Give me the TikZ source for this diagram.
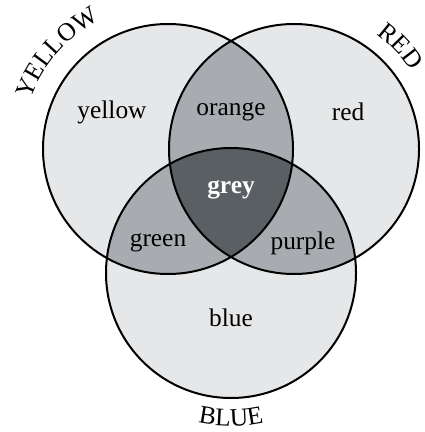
\documentclass[tikz,border=0pt]{standalone}
\usepackage{fontspec}
\setmainfont{Liberation Serif}
\usetikzlibrary{decorations.text}
\definecolor{SetLight}{RGB}{230,231,233}
\definecolor{SetMid}{RGB}{168,172,177}
\definecolor{SetDark}{RGB}{90,95,99}
\newcommand{\SetFont}{\fontsize{12.7}{15}\selectfont}
\newcommand{\SetRadius}{62.5pt}
\newcommand{\ArcLabel}[5]{
\path[decorate, decoration={text along path, text align=center, text={|\SetFont|#5}}]
  ([shift={(#2:#4)}]#1) arc[start angle=#2, end angle=#3, radius=#4]; % label outside the circle
}

\begin{document}
\begin{tikzpicture}[x=0.5pt, y=0.5pt,
setline/.style={line width=1pt, black},
region/.style={font=\SetFont, inner sep=0},
]
\useasboundingbox (0,0) rectangle (424,-432); %%%%%%%%%%%% SIZE OF THE PICTURE

%%%%%%%%%%%%%%%%%%%%%%%% CENTRES %%%%%%%%%%%%%%%%%%%%%%%%%%%
\coordinate (CY) at (168,-149);
\coordinate (CR) at (294,-149);
\coordinate (CB) at (231,-273);

%%%%%%%%%%%%%%%%%%%%%%%% FILLS %%%%%%%%%%%%%%%%%%%%%%%%%%%
\fill[SetLight] (CY) circle[radius=\SetRadius];
\fill[SetLight] (CR) circle[radius=\SetRadius];
\fill[SetLight] (CB) circle[radius=\SetRadius];
\begin{scope}
  \clip (CY) circle[radius=\SetRadius];
  \fill[SetMid] (CR) circle[radius=\SetRadius];
  \fill[SetMid] (CB) circle[radius=\SetRadius];
\end{scope}
\begin{scope}
  \clip (CR) circle[radius=\SetRadius];
  \fill[SetMid] (CB) circle[radius=\SetRadius];
\end{scope}
\begin{scope}
  \clip (CY) circle[radius=\SetRadius];
  \clip (CR) circle[radius=\SetRadius];
  \fill[SetDark] (CB) circle[radius=\SetRadius];
\end{scope}

%%%%%%%%%%%%%%%%%%%%%%%% OUTLINES %%%%%%%%%%%%%%%%%%%%%%%%%%%
\draw[setline] (CY) circle[radius=\SetRadius];
\draw[setline] (CR) circle[radius=\SetRadius];
\draw[setline] (CB) circle[radius=\SetRadius];

%%%%%%%%% REGIONS %%%%%%%%%%%%%
\node[region] (yellow) at (112,-112) {yellow};
\node[region] (orange) at (231,-112) {orange};
\node[region] (red) at (348,-112) {red};
\node[region, text=white, font=\SetFont\bfseries] (grey) at (231,-190) {grey};
\node[region] (green) at (158,-243) {green};
\node[region] (purple) at (303,-243) {purple};
\node[region] (blue) at (231,-318) {blue};

%%%%%%%%% SET NAMES %%%%%%%%%%%%%
\ArcLabel{CY}{180}{98}{73pt}{YELLOW}
\ArcLabel{CR}{76}{12}{70.5pt}{RED}
\ArcLabel{CB}{230}{310}{76.5pt}{BLUE}

\end{tikzpicture}
\end{document}
